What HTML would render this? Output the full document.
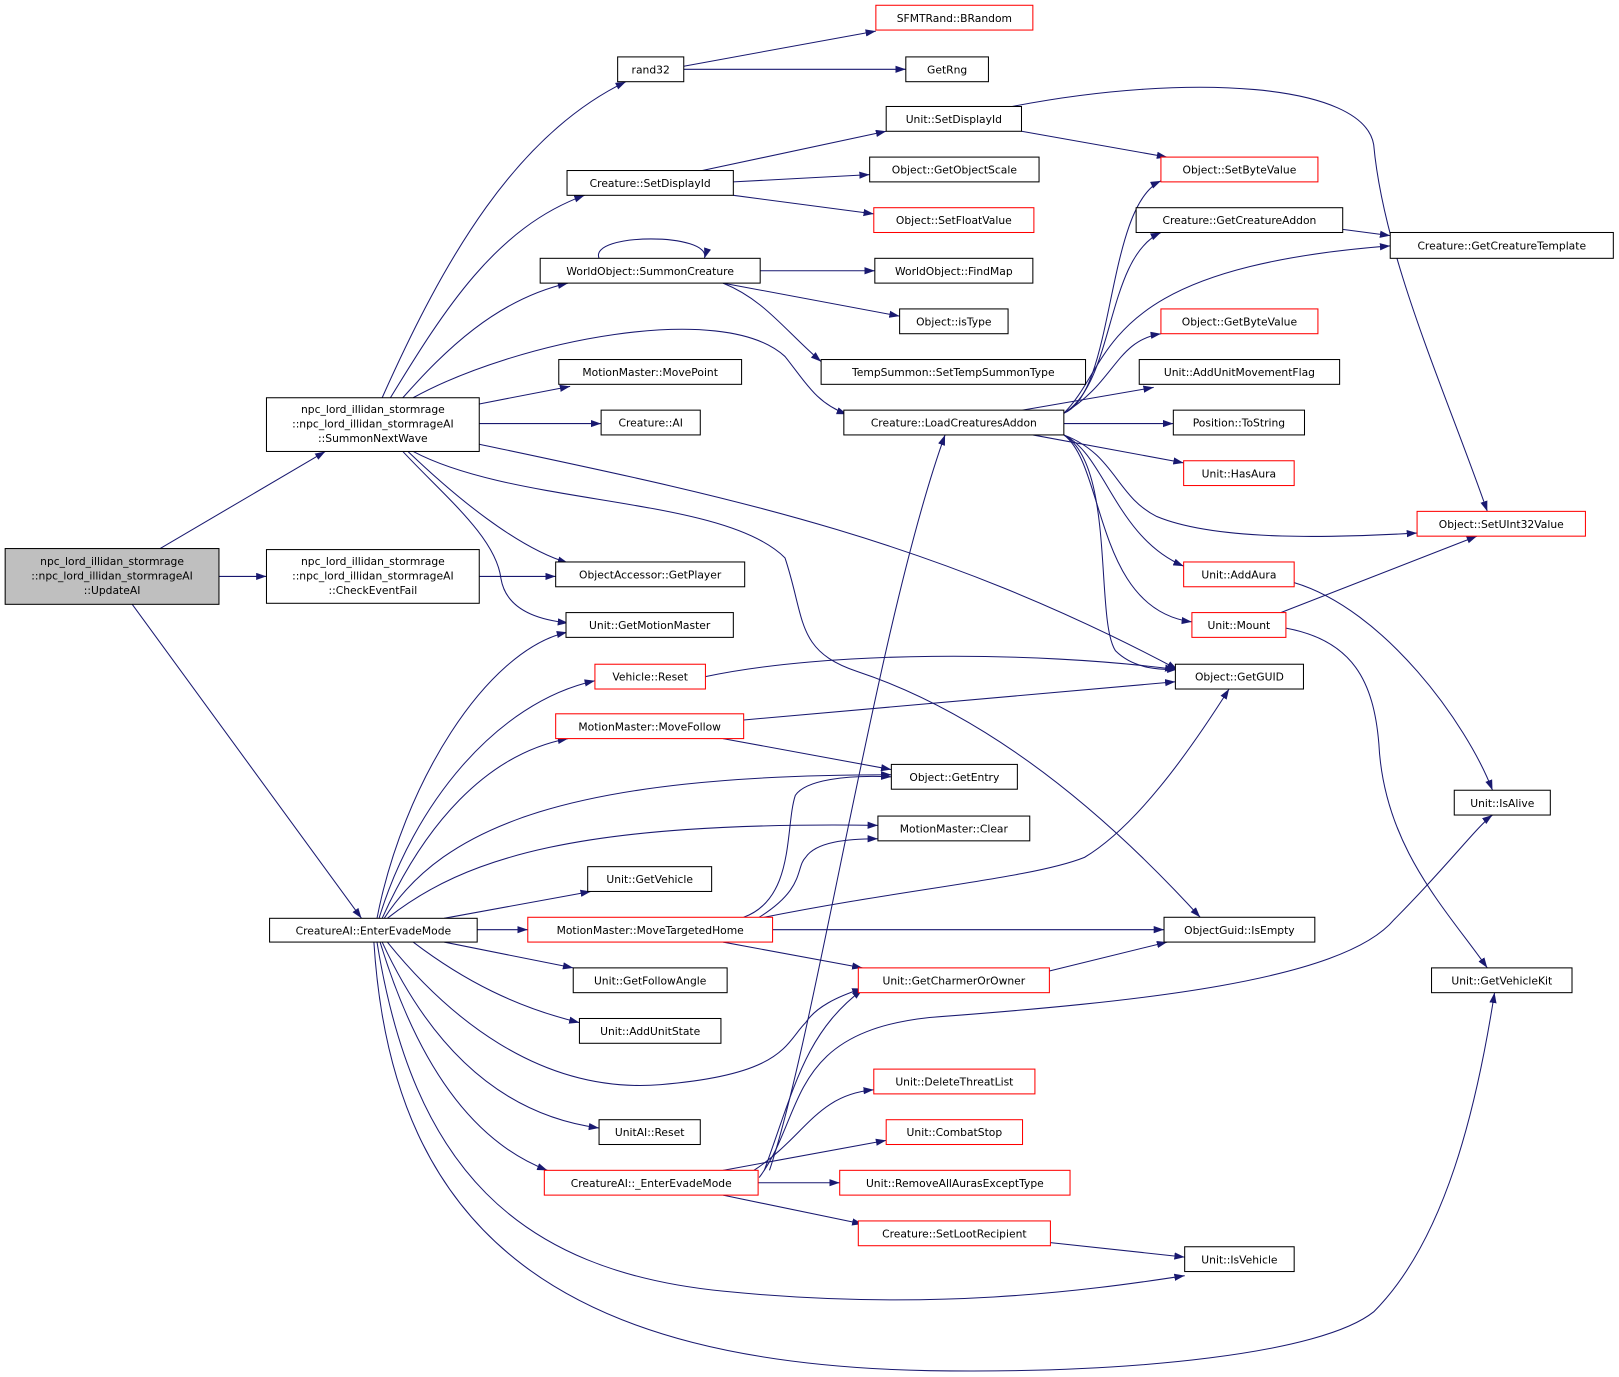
<!DOCTYPE html>
<html><head><meta charset="utf-8"><style>
html,body{margin:0;padding:0;background:#fff}
svg{display:block}
text{font-family:"DejaVu Sans","Liberation Sans",sans-serif;font-size:10.4px;fill:#000}
.n{fill:#fff;stroke:#000;stroke-width:1}
.r{fill:#fff;stroke:#ff0000;stroke-width:1}
.e{fill:none;stroke:#191970;stroke-width:1}
</style></head><body>
<svg width="1619" height="1377" viewBox="0 0 1567.5 1333" xmlns="http://www.w3.org/2000/svg">
<defs><marker id="a" markerUnits="userSpaceOnUse" markerWidth="11" markerHeight="8" refX="10" refY="3.5" orient="auto"><path d="M0,0L10,3.5L0,7z" fill="#191970"/></marker></defs>
<g class="e" marker-end="url(#a)">
<path d="M155,531L315,437"/>
<path d="M212,558L258,558"/>
<path d="M128,585L350,889"/>
<path d="M370,385C430,250 500,130 606,79"/>
<path d="M378,385C430,300 480,220 566,189"/>
<path d="M390,385C430,340 480,290 550,274"/>
<path d="M400,385C500,330 700,290 760,345C780,370 790,390 820,401"/>
<path d="M464,391L552,374"/>
<path d="M464,410L582,410"/>
<path d="M464,430C700,480 900,520 1140,648"/>
<path d="M400,437C500,490 700,480 760,540C780,600 770,630 830,650C980,700 1100,820 1162,888"/>
<path d="M395,437C440,480 500,530 550,545"/>
<path d="M390,437C430,480 480,520 485,560C490,590 520,600 550,603"/>
<path d="M464,558L538,558"/>
<path d="M662,64L848,30"/>
<path d="M662,67L877,67"/>
<path d="M680,165L858,127"/>
<path d="M710,176L842,169"/>
<path d="M710,189L846,207"/>
<path d="M989,127L1130,152"/>
<path d="M980,103C1150,70 1320,80 1330,140C1340,250 1400,380 1440,495"/>
<path d="M580,250C570,225 690,225 682,250"/>
<path d="M736,262L847,262"/>
<path d="M700,274L871,306"/>
<path d="M700,274C740,290 760,320 795,350"/>
<path d="M1030,400C1080,380 1070,200 1124,175"/>
<path d="M1030,400C1080,370 1070,250 1124,225"/>
<path d="M1030,400C1080,350 1060,260 1346,238"/>
<path d="M1030,400C1080,370 1080,330 1124,323"/>
<path d="M990,397L1117,375"/>
<path d="M1030,410L1136,410"/>
<path d="M1000,421L1146,448"/>
<path d="M1030,421C1080,440 1080,480 1120,500C1180,525 1300,520 1372,516"/>
<path d="M1030,421C1070,440 1080,520 1146,548"/>
<path d="M1030,421C1070,450 1060,590 1154,602"/>
<path d="M1030,421C1080,450 1060,600 1080,630C1100,650 1130,648 1140,648"/>
<path d="M1300,222L1346,228"/>
<path d="M1253,564C1340,590 1420,700 1445,765"/>
<path d="M1240,593L1430,519"/>
<path d="M1245,608C1310,620 1330,660 1335,720C1340,820 1400,880 1440,937"/>
<path d="M365,889C390,760 470,630 549,612"/>
<path d="M367,889C400,780 480,680 576,659"/>
<path d="M370,889C410,800 470,730 550,715"/>
<path d="M372,889C430,800 550,750 863,750"/>
<path d="M375,889C450,830 560,795 850,799"/>
<path d="M430,889L572,863"/>
<path d="M462,900L511,900"/>
<path d="M430,912L555,937"/>
<path d="M400,912C450,950 500,975 561,990"/>
<path d="M375,912C430,980 520,1060 640,1050C760,1040 760,1010 780,990C790,975 810,965 835,957"/>
<path d="M370,912C420,1020 490,1080 580,1092"/>
<path d="M368,912C410,1050 470,1110 530,1133"/>
<path d="M365,912C400,1130 500,1230 700,1250C900,1270 1050,1250 1147,1235"/>
<path d="M362,912C380,1200 550,1320 900,1327C1100,1330 1280,1310 1330,1270C1400,1200 1430,1070 1447,961"/>
<path d="M745,1133C790,1000 850,600 915,421"/>
<path d="M683,655C800,630 1000,630 1138,648"/>
<path d="M720,697L1138,660"/>
<path d="M700,715L863,745"/>
<path d="M720,888C770,870 760,800 770,770C780,755 820,750 863,752"/>
<path d="M735,888C780,860 770,840 780,830C790,815 820,812 850,812"/>
<path d="M740,888C880,860 1000,850 1050,830C1100,800 1150,730 1190,667"/>
<path d="M748,900L1127,900"/>
<path d="M700,912L835,937"/>
<path d="M1016,940L1130,912"/>
<path d="M735,1140C780,1080 760,1000 900,985C1100,970 1300,950 1350,890C1400,840 1430,800 1445,789"/>
<path d="M740,1133C770,1050 780,1000 835,958"/>
<path d="M730,1133C780,1100 790,1060 846,1055"/>
<path d="M700,1133L858,1104"/>
<path d="M734,1145L813,1145"/>
<path d="M700,1157L835,1185"/>
<path d="M1017,1203L1147,1217"/>
</g>
<g>
<rect x="5" y="531" width="207" height="54" fill="#bfbfbf" stroke="#000"/>
<text x="108.5" y="547" text-anchor="middle">npc_lord_illidan_stormrage</text>
<text x="108.5" y="561" text-anchor="middle">::npc_lord_illidan_stormrageAI</text>
<text x="108.5" y="575" text-anchor="middle">::UpdateAI</text>
<rect class="n" x="258" y="385" width="206" height="52"/>
<text x="361" y="400" text-anchor="middle">npc_lord_illidan_stormrage</text>
<text x="361" y="414" text-anchor="middle">::npc_lord_illidan_stormrageAI</text>
<text x="361" y="428" text-anchor="middle">::SummonNextWave</text>
<rect class="n" x="258" y="532" width="206" height="52"/>
<text x="361" y="547" text-anchor="middle">npc_lord_illidan_stormrage</text>
<text x="361" y="561" text-anchor="middle">::npc_lord_illidan_stormrageAI</text>
<text x="361" y="575" text-anchor="middle">::CheckEventFail</text>
</g>
<g text-anchor="middle">
<rect class="n" x="261" y="889" width="201" height="23"/><text x="361.5" y="904.5">CreatureAI::EnterEvadeMode</text>
<rect class="n" x="598" y="55" width="64" height="24"/><text x="630" y="71">rand32</text>
<rect class="r" x="848" y="5" width="152" height="24"/><text x="924" y="21">SFMTRand::BRandom</text>
<rect class="n" x="877" y="55" width="80" height="24"/><text x="917" y="71">GetRng</text>
<rect class="n" x="858" y="103" width="131" height="24"/><text x="923.5" y="119">Unit::SetDisplayId</text>
<rect class="n" x="549" y="165" width="161" height="24"/><text x="629.5" y="181">Creature::SetDisplayId</text>
<rect class="n" x="842" y="152" width="164" height="24"/><text x="924" y="168">Object::GetObjectScale</text>
<rect class="r" x="1124" y="152" width="152" height="24"/><text x="1200" y="168">Object::SetByteValue</text>
<rect class="r" x="846" y="201" width="155" height="24"/><text x="923.5" y="217">Object::SetFloatValue</text>
<rect class="n" x="1100" y="201" width="200" height="24"/><text x="1200" y="217">Creature::GetCreatureAddon</text>
<rect class="n" x="1346" y="225" width="216" height="25"/><text x="1454" y="241.5">Creature::GetCreatureTemplate</text>
<rect class="n" x="523" y="250" width="213" height="24"/><text x="629.5" y="266">WorldObject::SummonCreature</text>
<rect class="n" x="847" y="250" width="153" height="24"/><text x="923.5" y="266">WorldObject::FindMap</text>
<rect class="n" x="871" y="299" width="105" height="24"/><text x="923.5" y="315">Object::isType</text>
<rect class="r" x="1124" y="299" width="152" height="24"/><text x="1200" y="315">Object::GetByteValue</text>
<rect class="n" x="795" y="348" width="256" height="24"/><text x="923" y="364">TempSummon::SetTempSummonType</text>
<rect class="n" x="1103" y="348" width="194" height="24"/><text x="1200" y="364">Unit::AddUnitMovementFlag</text>
<rect class="n" x="541" y="348" width="177" height="24"/><text x="629.5" y="364">MotionMaster::MovePoint</text>
<rect class="n" x="582" y="397" width="96" height="24"/><text x="630" y="413">Creature::AI</text>
<rect class="n" x="817" y="397" width="213" height="24"/><text x="923.5" y="413">Creature::LoadCreaturesAddon</text>
<rect class="n" x="1136" y="397" width="127" height="24"/><text x="1199.5" y="413">Position::ToString</text>
<rect class="r" x="1146" y="446" width="107" height="24"/><text x="1199.5" y="462">Unit::HasAura</text>
<rect class="r" x="1372" y="495" width="163" height="24"/><text x="1453.5" y="511">Object::SetUInt32Value</text>
<rect class="n" x="538" y="544" width="183" height="24"/><text x="629.5" y="560">ObjectAccessor::GetPlayer</text>
<rect class="r" x="1146" y="544" width="107" height="24"/><text x="1199.5" y="560">Unit::AddAura</text>
<rect class="n" x="548" y="593" width="162" height="24"/><text x="629" y="609">Unit::GetMotionMaster</text>
<rect class="r" x="1154" y="593" width="91" height="24"/><text x="1199.5" y="609">Unit::Mount</text>
<rect class="r" x="576" y="643" width="107" height="24"/><text x="629.5" y="659">Vehicle::Reset</text>
<rect class="n" x="1138" y="643" width="124" height="24"/><text x="1200" y="659">Object::GetGUID</text>
<rect class="r" x="538" y="691" width="182" height="24"/><text x="629" y="707">MotionMaster::MoveFollow</text>
<rect class="n" x="863" y="740" width="122" height="24"/><text x="924" y="756">Object::GetEntry</text>
<rect class="n" x="1408" y="765" width="93" height="24"/><text x="1454.5" y="781">Unit::IsAlive</text>
<rect class="n" x="850" y="790" width="147" height="24"/><text x="923.5" y="806">MotionMaster::Clear</text>
<rect class="n" x="569" y="839" width="120" height="24"/><text x="629" y="855">Unit::GetVehicle</text>
<rect class="r" x="511" y="888" width="237" height="24"/><text x="629.5" y="904">MotionMaster::MoveTargetedHome</text>
<rect class="n" x="1127" y="888" width="146" height="24"/><text x="1200" y="904">ObjectGuid::IsEmpty</text>
<rect class="n" x="555" y="937" width="149" height="24"/><text x="629.5" y="953">Unit::GetFollowAngle</text>
<rect class="r" x="831" y="937" width="185" height="24"/><text x="923.5" y="953">Unit::GetCharmerOrOwner</text>
<rect class="n" x="1386" y="937" width="136" height="24"/><text x="1454" y="953">Unit::GetVehicleKit</text>
<rect class="n" x="561" y="986" width="137" height="24"/><text x="629.5" y="1002">Unit::AddUnitState</text>
<rect class="r" x="846" y="1035" width="156" height="24"/><text x="924" y="1051">Unit::DeleteThreatList</text>
<rect class="r" x="858" y="1084" width="132" height="24"/><text x="924" y="1100">Unit::CombatStop</text>
<rect class="n" x="580" y="1084" width="98" height="24"/><text x="629" y="1100">UnitAI::Reset</text>
<rect class="r" x="527" y="1133" width="207" height="24"/><text x="630.5" y="1149">CreatureAI::_EnterEvadeMode</text>
<rect class="r" x="813" y="1133" width="223" height="24"/><text x="924.5" y="1149">Unit::RemoveAllAurasExceptType</text>
<rect class="r" x="831" y="1182" width="186" height="24"/><text x="924" y="1198">Creature::SetLootRecipient</text>
<rect class="n" x="1147" y="1207" width="106" height="24"/><text x="1200" y="1223">Unit::IsVehicle</text>
</g>
</svg>
</body></html>
